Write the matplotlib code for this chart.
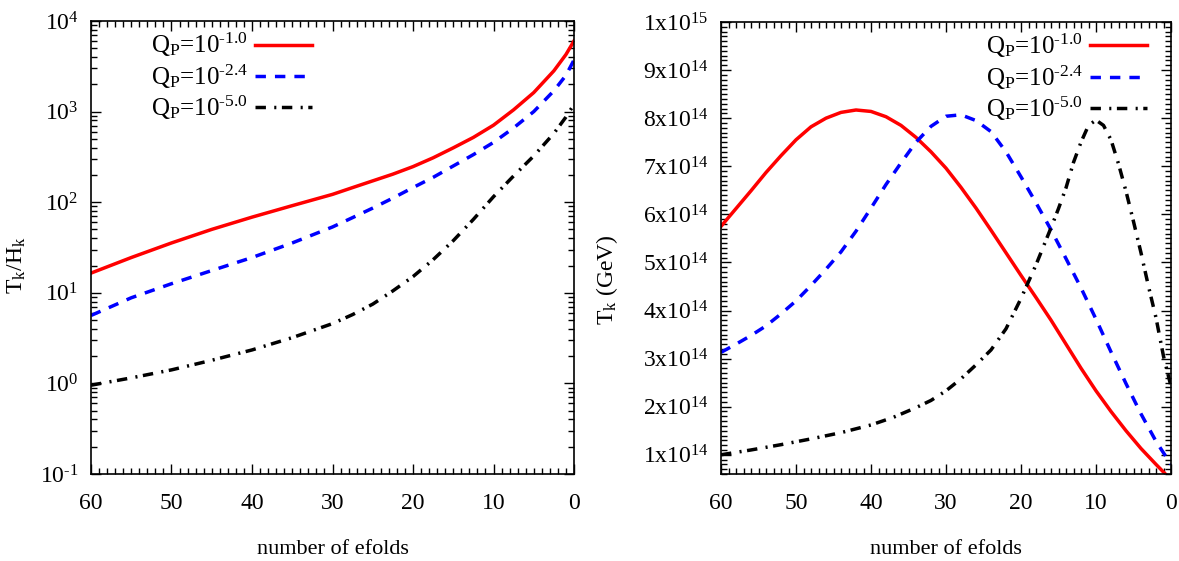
import matplotlib
matplotlib.use("Agg")
import matplotlib.pyplot as plt
from matplotlib.ticker import MultipleLocator, LogLocator, NullFormatter

plt.rcParams['font.family'] = ['Liberation Serif', 'DejaVu Serif']
plt.rcParams['mathtext.fontset'] = 'custom'
plt.rcParams['mathtext.rm'] = 'Liberation Serif'
plt.rcParams['mathtext.it'] = 'Liberation Serif:italic'
plt.rcParams['font.size'] = 16

HY = '\u2010'  # short hyphen, gnuplot style minus

# ---- data ----
labels = ['Q$_\\mathregular{P}$=10$^\\mathregular{%s1.0}$' % HY,
          'Q$_\\mathregular{P}$=10$^\\mathregular{%s2.4}$' % HY,
          'Q$_\\mathregular{P}$=10$^\\mathregular{%s5.0}$' % HY]
colors = ['#ff0000', '#0000ff', '#000000']

# left panel: T_k/H_k
efolds_left = [60, 55, 50, 45, 40, 35, 30, 27.5, 25, 22.5, 20, 17.5, 15, 12.5, 10, 7.5, 5, 2.5, 1, 0]
ratio_q1 = [16.5, 24.5, 35.5, 50.1, 68.4, 91.6, 122, 145, 172, 204, 247, 309, 398, 519, 708,
            1047, 1622, 2818, 4266, 6026]
ratio_q2 = [5.62, 8.81, 12.6, 17.6, 24.5, 35.5, 53.3, 67.6, 86.1, 111, 145, 188, 251, 335, 457,
            661, 1000, 1698, 2512, 3715]
ratio_q3 = [0.955, 1.15, 1.41, 1.80, 2.34, 3.20, 4.57, 5.75, 7.50, 10.5, 15.1, 23.2, 37.6, 64.6,
            115, 195, 324, 575, 871, 1202]

# right panel: T_k in units of 1e14 GeV
efolds_q1 = [60, 58, 56, 54, 52, 50, 48, 46, 44, 42, 40, 38, 36, 34, 32, 30, 28, 26, 24, 22, 20,
             18, 16, 14, 12, 10, 8, 6, 4, 2, 0]
temp_q1 = [5.75, 6.12, 6.49, 6.87, 7.22, 7.55, 7.82, 8.0, 8.12, 8.17, 8.14, 8.03, 7.85, 7.6, 7.3,
           6.96, 6.56, 6.13, 5.67, 5.2, 4.73, 4.27, 3.8, 3.3, 2.8, 2.33, 1.9, 1.5, 1.13, 0.8, 0.48]
efolds_q2 = [60, 58, 56, 54, 52, 50, 48, 46, 44, 42, 40, 38, 36, 34, 32, 30, 28, 26, 24, 22, 20,
             18, 16, 14, 12, 10, 8, 6, 4, 2, 0]
temp_q2 = [3.13, 3.3, 3.48, 3.68, 3.93, 4.2, 4.52, 4.86, 5.22, 5.65, 6.13, 6.62, 7.07, 7.5, 7.83,
           8.04, 8.07, 7.95, 7.72, 7.3, 6.78, 6.24, 5.68, 5.08, 4.47, 3.82, 3.14, 2.48, 1.85, 1.28, 0.8]
efolds_q3 = [60, 56, 52, 48, 44, 40, 37, 34, 32, 30, 28, 26, 24, 22, 20, 18, 16, 15, 14, 13, 12,
             11, 10, 9, 8, 7, 6, 5, 4, 3, 2, 1, 0]
temp_q3 = [1.0, 1.1, 1.21, 1.33, 1.46, 1.62, 1.78, 1.98, 2.13, 2.33, 2.58, 2.87, 3.18, 3.62, 4.25,
           4.95, 5.72, 6.12, 6.55, 7.08, 7.5, 7.85, 7.96, 7.85, 7.55, 7.05, 6.48, 5.85, 5.2, 4.5,
           3.85, 3.05, 2.42]

left_yticks = [1e-1, 1e0, 1e1, 1e2, 1e3, 1e4]
left_yticklabels = ['10$^\\mathregular{%s1}$' % HY, '10$^\\mathregular{0}$', '10$^\\mathregular{1}$',
                    '10$^\\mathregular{2}$', '10$^\\mathregular{3}$', '10$^\\mathregular{4}$']
right_yticks = [1e14, 2e14, 3e14, 4e14, 5e14, 6e14, 7e14, 8e14, 9e14, 1e15]
right_yticklabels = ['%dx10$^\\mathregular{14}$' % k for k in range(1, 10)] + ['1x10$^\\mathregular{15}$']
xticks = [60, 50, 40, 30, 20, 10, 0]

styles = [dict(linestyle='-'),
          dict(linestyle=(0, (3.0, 2.6))),
          dict(linestyle=(0, (3.0, 2.4, 0.6, 1.6)))]

fig = plt.figure(figsize=(11.79, 5.61), dpi=100)
ax1 = fig.add_axes([91 / 1179, 87 / 561, 483 / 1179, 453 / 561])
ax2 = fig.add_axes([721 / 1179, 87 / 561, 450 / 1179, 452 / 561])


def style_axis(ax):
    ax.set_xlim(60, 0)
    ax.set_xticks(xticks)
    ax.xaxis.set_minor_locator(MultipleLocator(1))
    ax.tick_params(which='both', direction='in', top=True, right=True, width=1.0)
    ax.tick_params(which='major', length=7)
    ax.tick_params(which='minor', length=4)
    ax.tick_params(axis='x', which='major', pad=14, labelsize=17)
    ax.tick_params(axis='y', which='major', pad=9, labelsize=17)
    for s in ax.spines.values():
        s.set_linewidth(1.2)
    ax.set_xlabel('number of efolds', fontsize=16)
    ax.xaxis.set_label_coords(0.5, -0.145)


def add_legend(ax, x_right):
    ax.legend(loc='upper right', bbox_to_anchor=(x_right, 0.978), frameon=False,
              markerfirst=False, handlelength=2.3, handletextpad=0.25, labelspacing=0.12,
              borderpad=0, borderaxespad=0, fontsize=18)


# left panel
series_left = [ratio_q1, ratio_q2, ratio_q3]
for vals, c, st, lab in zip(series_left, colors, styles, labels):
    ax1.plot(efolds_left, vals, color=c, lw=2.5, label=lab, **st)
ax1.set_yscale('log')
ax1.set_ylim(1e-1, 1e4)
ax1.set_yticks(left_yticks)
ax1.set_yticklabels(left_yticklabels)
ax1.yaxis.set_minor_locator(LogLocator(base=10, subs=range(2, 10)))
ax1.yaxis.set_minor_formatter(NullFormatter())
style_axis(ax1)
ax1.set_ylabel('T$_\\mathregular{k}$/H$_\\mathregular{k}$', fontsize=17)
ax1.yaxis.set_label_coords(-0.13, 0.46)
add_legend(ax1, 0.4576)

# right panel
series_right = [(efolds_q1, temp_q1), (efolds_q2, temp_q2), (efolds_q3, temp_q3)]
for (n, t), c, st, lab in zip(series_right, colors, styles, labels):
    ax2.plot(n, [v * 1e14 for v in t], color=c, lw=2.5, label=lab, **st)
ax2.set_ylim(0.6e14, 1e15)
ax2.set_yticks(right_yticks)
ax2.set_yticklabels(right_yticklabels)
ax2.yaxis.set_minor_locator(MultipleLocator(1e13))
style_axis(ax2)
ax2.set_ylabel('T$_\\mathregular{k}$ (GeV)', fontsize=17)
ax2.yaxis.set_label_coords(-0.224, 0.43)
add_legend(ax2, 0.947)

fig.savefig('out.png', dpi=100)
